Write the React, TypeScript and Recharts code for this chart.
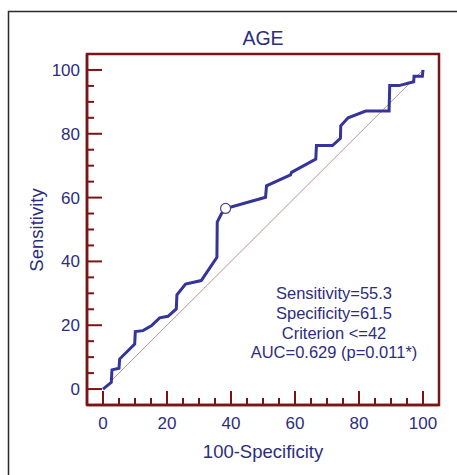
import React from "react";
import {
  ComposedChart,
  Line,
  XAxis,
  YAxis,
  ReferenceLine,
  ReferenceDot,
  ReferenceArea,
} from "recharts";

// ROC curve points (100-Specificity, Sensitivity)
const fprValues = [
  0, 2.6, 2.8, 5.0, 5.2, 7.8, 9.9, 10.1, 12.5, 15.1, 17.7, 20.3, 22.9, 23.1,
  25.8, 30.7, 35.6, 35.7, 37.0, 38.3, 50.8, 51.1, 58.6, 58.9, 66.5, 66.7, 71.7,
  74.2, 74.3, 76.6, 82.1, 89.4, 89.6, 92.5, 97.1, 97.2, 99.8, 100,
];
const sensValues = [
  0, 2.1, 6.0, 6.5, 9.4, 12.0, 14.1, 18.0, 18.3, 19.8, 22.3, 22.8, 25.1, 29.5,
  32.9, 34.0, 41.3, 52.3, 54.9, 56.6, 60.1, 63.7, 67.1, 67.9, 72.1, 76.3, 76.3,
  78.6, 82.5, 85.0, 87.1, 87.1, 95.1, 95.1, 96.3, 98.0, 98.0, 100,
];
const criterionPoint = { x: 38.3, y: 56.6 };
const axisTicks = [
  0, 5, 10, 15, 20, 25, 30, 35, 40, 45, 50, 55, 60, 65, 70, 75, 80, 85, 90, 95,
  100,
];
const statLines = [
  "Sensitivity=55.3",
  "Specificity=61.5",
  "Criterion <=42",
  "AUC=0.629 (p=0.011*)",
];
const titleText = "AGE";
const xTitle = "100-Specificity";
const yTitle = "Sensitivity";

const rocData = fprValues.map((x, i) => ({ x, y: sensValues[i] }));

const AX = "#7b1515";
const CURVE = "#34349a";
const TXT = "#2d2d7d";
const DIAG = "#b49494";
const FONT = "'Liberation Sans', Arial, Helvetica, sans-serif";

const XTick = (props: any) => {
  const { x, y, payload } = props;
  const v = payload.value;
  const major = v % 20 === 0;
  return (
    <g>
      <line x1={x} y1={y} x2={x} y2={y - (major ? 14 : 7)} stroke={AX} strokeWidth={2} />
      {major && (
        <text x={x} y={y + 24} textAnchor="middle" fill={TXT} fontSize={17} fontFamily={FONT}>
          {v}
        </text>
      )}
    </g>
  );
};

const YTick = (props: any) => {
  const { x, y, payload } = props;
  const v = payload.value;
  const major = v % 20 === 0;
  return (
    <g>
      <line x1={x} y1={y} x2={x + (major ? 15 : 7)} y2={y} stroke={AX} strokeWidth={2} />
      {major && (
        <text x={x - 7} y={y + 6} textAnchor="end" fill={TXT} fontSize={17} fontFamily={FONT}>
          {v}
        </text>
      )}
    </g>
  );
};

export default function App() {
  return (
    <div
      style={{
        position: "absolute",
        left: 0,
        top: 0,
        width: 457,
        height: 475,
        background: "#fff",
      }}
    >
      <ComposedChart
        width={457}
        height={475}
        margin={{ top: 54, right: 18, bottom: 0, left: 0 }}
      >
        <XAxis
          type="number"
          dataKey="x"
          domain={[-5, 105]}
          ticks={axisTicks}
          interval={0}
          tickSize={0}
          tickMargin={0}
          tickLine={false}
          tick={<XTick />}
          height={70}
          axisLine={{ stroke: AX, strokeWidth: 2.5 }}
        />
        <YAxis
          type="number"
          dataKey="y"
          domain={[-5, 105]}
          ticks={axisTicks}
          interval={0}
          tickSize={0}
          tickMargin={0}
          tickLine={false}
          tick={<YTick />}
          width={87}
          axisLine={{ stroke: AX, strokeWidth: 2.5 }}
        />
        <ReferenceArea
          x1={-5}
          x2={105}
          y1={-5}
          y2={105}
          fill="none"
          fillOpacity={0}
          stroke={AX}
          strokeWidth={2.5}
          ifOverflow="visible"
        />
        <ReferenceLine
          segment={[
            { x: 0, y: 0 },
            { x: 100, y: 100 },
          ]}
          stroke={DIAG}
          strokeWidth={1}
        />
        <Line
          data={rocData}
          dataKey="y"
          type="linear"
          stroke={CURVE}
          strokeWidth={3}
          dot={false}
          activeDot={false}
          isAnimationActive={false}
        />
        <ReferenceDot
          x={criterionPoint.x}
          y={criterionPoint.y}
          r={5}
          fill="#fff"
          stroke="#4a4a8a"
          strokeWidth={1.2}
        />
      </ComposedChart>
      <svg
        width={457}
        height={475}
        style={{ position: "absolute", left: 0, top: 0, pointerEvents: "none" }}
      >
        <path d="M8.5,475 V11.5 H457" fill="none" stroke="#2a2a2a" strokeWidth={1.5} />
        <text x={263} y={45} textAnchor="middle" fill={TXT} fontSize={19.5} fontFamily={FONT}>
          {titleText}
        </text>
        <text x={263} y={458} textAnchor="middle" fill={TXT} fontSize={18.5} fontFamily={FONT}>
          {xTitle}
        </text>
        <text
          x={0}
          y={0}
          transform="translate(43,230) rotate(-90)"
          textAnchor="middle"
          fill={TXT}
          fontSize={18.5}
          fontFamily={FONT}
        >
          {yTitle}
        </text>
        {statLines.map((s, i) => (
          <text
            key={i}
            x={334}
            y={299.3 + i * 19.65}
            textAnchor="middle"
            fill={TXT}
            fontSize={16.5}
            fontFamily={FONT}
          >
            {s}
          </text>
        ))}
      </svg>
    </div>
  );
}
